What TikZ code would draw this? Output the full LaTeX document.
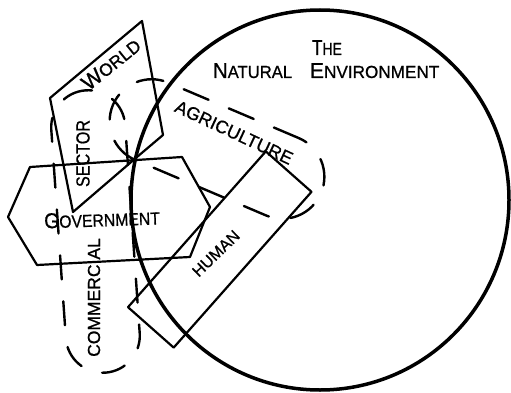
\documentclass[tikz,border=0pt]{standalone}
\usepackage{fontspec}
\setmainfont{Liberation Sans}[FakeBold=0.8]
\usetikzlibrary{shapes.geometric}
\newcommand{\lgc}[1]{{\fontsize{21.5}{21.5}\selectfont #1}}
\begin{document}
\begin{tikzpicture}[x=1pt,y=-1pt,
  solidline/.style={line width=2.2pt, line join=round, line cap=round},
  dashloop/.style={draw, line width=2.4pt, line cap=round, dash pattern=on 24pt off 22pt},
  lbl/.style={inner sep=0pt, outer sep=0pt, font=\fontsize{17.5}{17.5}\selectfont},
]
\useasboundingbox (0,0) rectangle (511,393);
% the natural environment
\node[ellipse, draw, line width=3.5pt, minimum width=378pt, minimum height=380pt, inner sep=0pt, outer sep=0pt] (env) at (320,200) {};
% world sector
\draw[solidline] (50,98) -- (142,21) -- (163,135) -- (137,157) -- (73,212) -- cycle;
% government
\draw[solidline] (8,217) -- (30,167) -- (182,157) -- (210,207) -- (190,257) -- (37,265) -- cycle;
% human
\node[rectangle, draw, solidline, minimum width=208pt, minimum height=61pt, rotate=48.5, inner sep=0pt, outer sep=0pt] (human) at (219.75,249.5) {};
% agriculture
\node[rectangle, rounded corners=42pt, dashloop, dash pattern=on 27pt off 22pt, minimum width=226pt, minimum height=84pt, rotate=-23, inner sep=0pt, outer sep=0pt] (agri) at (217,149) {};
% commercial
\node[rectangle, rounded corners=37pt, dashloop, minimum width=74pt, minimum height=283pt, rotate=4, inner sep=0pt, outer sep=0pt] (comm) at (95.5,231.5) {};
% labels
\node[lbl, anchor=base west] (the) at (312,55) {\scalebox{0.8}[1]{\lgc{T}HE}};
\node[lbl, anchor=base west] (natural) at (213,78) {\scalebox{0.95}[1]{\lgc{N}ATURAL}};
\node[lbl, anchor=base west] (environment) at (310,78) {\scalebox{0.98}[1]{\lgc{E}NVIRONMENT}};
\node[lbl, rotate=39] (world) at (111,64) {\lgc{W}ORLD};
\node[lbl, rotate=90] (sector) at (83,153.5) {\scalebox{0.85}[1]{\fontsize{19}{19}\selectfont SECTOR}};
\node[lbl, rotate=90] (commercial) at (94,297.5) {COMMERCIAL};
\node[lbl, rotate=2] (government) at (102,219) {\scalebox{0.9}[1]{\lgc{G}OVERNMENT}};
\node[lbl, rotate=44, font=\fontsize{16}{16}\selectfont] (humanlbl) at (216,253.5) {HUMAN};
\node[lbl, rotate=-25, font=\fontsize{18}{18}\selectfont] (agrilbl) at (234,132.5) {AGRICULTURE};
\end{tikzpicture}
\end{document}
